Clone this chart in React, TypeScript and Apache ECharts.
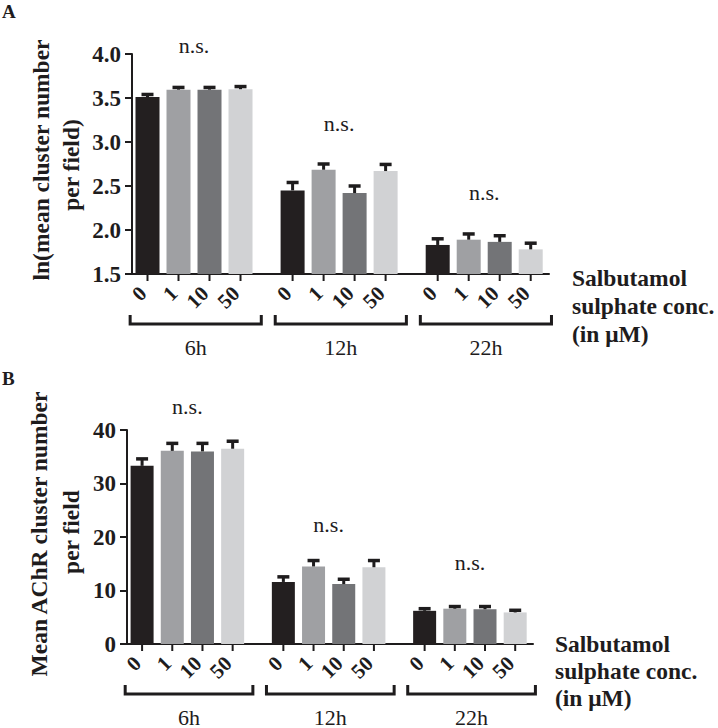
import React, { useEffect, useRef } from 'react';
import * as echarts from 'echarts';

// ---------- data ----------
const concLabels = ['0', '1', '10', '50'];
const timeLabels = ['6h', '12h', '22h'];
const concColors = ['#231f20', '#9fa0a3', '#737477', '#d1d2d4'];

// Panel A: ln(mean cluster number per field)
const lnMean = [
  [3.51, 3.595, 3.595, 3.6],
  [2.45, 2.685, 2.42, 2.67],
  [1.83, 1.89, 1.865, 1.78],
];
const lnUpper = [
  [3.54, 3.62, 3.62, 3.63],
  [2.54, 2.75, 2.5, 2.745],
  [1.9, 1.955, 1.935, 1.85],
];
const nsLevelA = [4.1, 3.205, 2.43];

// Panel B: mean AChR cluster number per field
const countMean = [
  [33.3, 36.1, 36.0, 36.5],
  [11.6, 14.5, 11.2, 14.35],
  [6.2, 6.6, 6.5, 5.9],
];
const countUpper = [
  [34.6, 37.5, 37.5, 37.9],
  [12.55, 15.6, 12.1, 15.6],
  [6.6, 7.0, 7.0, 6.3],
];
const nsLevelB = [44.3, 22.3, 15.2];

const yAxisA = { min: 1.5, max: 4.0, interval: 0.5, decimals: 1 };
const yAxisB = { min: 0, max: 40, interval: 10, decimals: 0 };

// ---------- layout ----------
const FONT = 'Liberation Serif';
const SLOT0 = 0.5;
const PERIOD = 4.68;
const XMAX = 13.45;
const slotX = (g: number, i: number) => SLOT0 + g * PERIOD + i;
const INK = '#1e1c1d';

function buildPanel(idx: number, mean: number[][], upper: number[][], ns: number[], yMin: number, barWidth: number) {
  const bars: any[] = [];
  const errs: number[][] = [];
  const ticks: number[][] = [];
  mean.forEach((grp, g) =>
    grp.forEach((v, i) => {
      const x = slotX(g, i);
      bars.push({ value: [x, v], itemStyle: { color: concColors[i] } });
      errs.push([x, v, upper[g][i]]);
      ticks.push([x, yMin]);
    })
  );
  const groups = timeLabels.map((_, g) => [slotX(g, 0) - 0.56, slotX(g, 3) + 0.67, slotX(g, 1.5), ns[g]]);
  return [
    { type: 'bar', xAxisIndex: idx, yAxisIndex: idx, barWidth, data: bars, z: 2 },
    {
      type: 'custom', xAxisIndex: idx, yAxisIndex: idx, z: 3,
      dimensions: ['x', 'mean', 'upper'], encode: { x: 0, y: [1, 2] }, data: errs,
      renderItem: (params: any, api: any) => {
        const x = api.value(0);
        const pm = api.coord([x, api.value(1)]);
        const pu = api.coord([x, api.value(2)]);
        return {
          type: 'group',
          children: [
            { type: 'line', shape: { x1: pm[0], y1: pm[1], x2: pu[0], y2: pu[1] }, style: { stroke: INK, lineWidth: 3 } },
            { type: 'line', shape: { x1: pu[0] - 6, y1: pu[1], x2: pu[0] + 6, y2: pu[1] }, style: { stroke: INK, lineWidth: 3.5 } },
          ],
        };
      },
    },
    {
      type: 'custom', xAxisIndex: idx, yAxisIndex: idx, z: 4, data: ticks,
      renderItem: (params: any, api: any) => {
        const p = api.coord([api.value(0), api.value(1)]);
        return { type: 'line', shape: { x1: p[0], y1: p[1], x2: p[0], y2: p[1] + 7 }, style: { stroke: INK, lineWidth: 2 } };
      },
    },
    {
      type: 'custom', xAxisIndex: idx, yAxisIndex: idx, z: 4, data: groups,
      renderItem: (params: any, api: any) => {
        const a = api.coord([api.value(0), yMin]);
        const b = api.coord([api.value(1), yMin]);
        const n = api.coord([api.value(2), api.value(3)]);
        const y0 = a[1];
        return {
          type: 'group',
          children: [
            {
              type: 'polyline',
              shape: { points: [[a[0], y0 + 41], [a[0], y0 + 50], [b[0], y0 + 50], [b[0], y0 + 41]] },
              style: { stroke: INK, lineWidth: 3, fill: 'none' },
            },
            {
              type: 'text', x: (a[0] + b[0]) / 2, y: y0 + 73,
              style: { text: timeLabels[params.dataIndex], fill: INK, fontSize: 22, fontFamily: FONT, align: 'center', verticalAlign: 'middle' },
            },
            {
              type: 'text', x: n[0], y: n[1],
              style: { text: 'n.s.', fill: INK, fontSize: 22, fontFamily: FONT, align: 'center', verticalAlign: 'middle' },
            },
          ],
        };
      },
    },
  ];
}

function yAxisCfg(idx: number, cfg: { min: number; max: number; interval: number; decimals: number }) {
  return {
    type: 'value', gridIndex: idx, min: cfg.min, max: cfg.max, interval: cfg.interval,
    axisLine: { show: true, lineStyle: { color: INK, width: 2 } },
    axisTick: { show: true, length: 7, lineStyle: { color: INK, width: 2 } },
    splitLine: { show: false },
    axisLabel: {
      margin: 11, color: INK, fontSize: 23, fontWeight: 'bold', fontFamily: FONT,
      formatter: (v: number) => v.toFixed(cfg.decimals),
    },
  };
}

function xAxisCfg(idx: number) {
  return {
    type: 'value', gridIndex: idx, min: 0, max: XMAX,
    axisLine: { show: true, onZero: false, lineStyle: { color: INK, width: 2 } },
    axisTick: { show: false }, axisLabel: { show: false }, splitLine: { show: false },
  };
}

function txt(text: string, x: number, y: number, size: number, opts: any = {}) {
  return {
    type: 'text', x, y, rotation: opts.rotation || 0,
    style: {
      text, fill: INK, fontSize: size, fontWeight: opts.weight || 'bold', fontFamily: FONT,
      lineHeight: opts.lineHeight,
      align: opts.align || 'center', verticalAlign: opts.va || 'middle',
      textAlign: opts.align || 'center', textVerticalAlign: opts.va || 'middle',
    },
  };
}

export default function App() {
  const ref = useRef<HTMLDivElement>(null);
  useEffect(() => {
    if (!ref.current) return;
    const chart = echarts.init(ref.current, null, { renderer: 'svg' });
    chart.setOption({
      animation: false,
      backgroundColor: '#ffffff',
      grid: [
        { left: 132, top: 54, width: 417, height: 220 },
        { left: 127, top: 430, width: 406, height: 214 },
      ],
      xAxis: [xAxisCfg(0), xAxisCfg(1)],
      yAxis: [yAxisCfg(0, yAxisA), yAxisCfg(1, yAxisB)],
      series: [
        ...buildPanel(0, lnMean, lnUpper, nsLevelA, yAxisA.min, 24),
        ...buildPanel(1, countMean, countUpper, nsLevelB, yAxisB.min, 23),
      ],
    });
    // rotated concentration labels under each bar, positioned through the axes
    const tickTexts: any[] = [];
    [yAxisA.min, yAxisB.min].forEach((yMin, idx) => {
      timeLabels.forEach((_, g) =>
        concLabels.forEach((lab, i) => {
          const p = chart.convertToPixel({ gridIndex: idx }, [slotX(g, i), yMin]) as number[];
          tickTexts.push(txt(lab, p[0] - 4.5, p[1] + 16, 21, { rotation: Math.PI / 4, align: 'right', va: 'middle' }));
        })
      );
    });
    chart.setOption({
      graphic: [
        txt('A', 2, 11, 19, { align: 'left' }),
        txt('B', 2, 378, 19, { align: 'left' }),
        txt('ln(mean cluster number', 41, 160, 23.5, { rotation: Math.PI / 2 }),
        txt('per field)', 71, 165, 23.5, { rotation: Math.PI / 2 }),
        txt('Mean AChR cluster number', 39, 534, 23.5, { rotation: Math.PI / 2 }),
        txt('per field', 71, 532, 23.5, { rotation: Math.PI / 2 }),
        txt('Salbutamol\nsulphate conc.\n(in \u03bcM)', 572, 264, 23.5, { align: 'left', va: 'top', lineHeight: 28 }),
        txt('Salbutamol\nsulphate conc.\n(in \u03bcM)', 555, 630, 23.5, { align: 'left', va: 'top', lineHeight: 27 }),
        ...tickTexts,
      ],
    });
    return () => chart.dispose();
  }, []);
  return <div ref={ref} style={{ position: 'absolute', left: 0, top: 0, width: 718, height: 728 }} />;
}
